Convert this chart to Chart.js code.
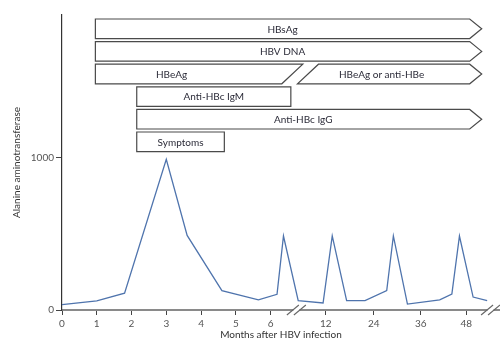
<!DOCTYPE html>
<html>
<head>
<meta charset="utf-8">
<script src="https://cdn.jsdelivr.net/npm/chart.js@4/dist/chart.umd.min.js"></script>
<style>
  html, body { margin: 0; background: #fff; }
  #wrap { width: 500px; height: 340px; }
</style>
</head>
<body>
<div id="wrap"><canvas id="altChart"></canvas></div>
<script>
Chart.defaults.font.family = 'Lato, "Open Sans", sans-serif'
Chart.defaults.font.size = 10

// broken x axis: months shown at these ticks, spaced at these axis positions
const monthTicks = [0, 1, 2, 3, 4, 5, 6, 12, 24, 36, 48]
const tickPositions = [0, 1, 2, 3, 4, 5, 6, 7.59, 8.97, 10.32, 11.63]
const breakMonths = [8.8, 54.4]
const yTicks = [0, 1000]

// ALT curve (months after infection, level)
const months = [0, 1, 1.8, 3, 3.6, 4.6, 5.65, 6.7, 7.4, 9, 11.7, 13.6, 17.2, 21.8, 27.3, 29, 32.6, 41, 44.2, 46.2, 49.8, 53.5]
const altValues = [35, 60, 110, 990, 490, 127, 66, 103, 486, 61, 46, 486, 61, 61, 127, 486, 39, 66, 105, 486, 85, 61]

// serology / clinical markers (row, start month, end month)
const markerNames = ['HBsAg', 'HBV DNA', 'HBeAg', 'HBeAg or anti-HBe', 'Anti-HBc IgM', 'Anti-HBc IgG', 'Symptoms']
const markerRows = [0, 1, 2, 2, 3, 4, 5]
const markerStart = [0.96, 0.96, 0.96, 11.2, 2.15, 2.15, 2.15]
const markerEnd = [48.9, 48.9, 9.5, 48.9, 8.2, 48.9, 4.67]

// end shapes per marker box: left / right
const leftEnds = ['flat', 'flat', 'flat', 'slash', 'flat', 'flat', 'flat']
const rightEnds = ['arrow', 'arrow', 'slash', 'arrow', 'flat', 'arrow', 'flat']
const labelAt = { 2: 3.15, 3: 26 }

const toPos = m => {
    const n = monthTicks.length
    let i = 0
    while (i < n - 2 && m > monthTicks[i + 1]) i++
    const t = (m - monthTicks[i]) / (monthTicks[i + 1] - monthTicks[i])
    return tickPositions[i] + t * (tickPositions[i + 1] - tickPositions[i])
}

const markersPlugin = {
    id: 'markers',
    beforeDatasetsDraw(chart) {
        const { ctx } = chart
        const xs = chart.scales.x
        const rs = chart.scales.rows
        const half = 9.8
        const slant = 21
        const head = 12
        ctx.save()
        ctx.lineWidth = 1.2
        ctx.strokeStyle = '#4a4a4a'
        ctx.lineJoin = 'miter'
        markerNames.forEach((name, i) => {
            const x0 = xs.getPixelForValue(toPos(markerStart[i]))
            const x1 = xs.getPixelForValue(toPos(markerEnd[i]))
            const yc = rs.getPixelForValue(markerRows[i])
            const top = yc - half, bot = yc + half
            ctx.beginPath()
            ctx.moveTo(x0, top)
            ctx.lineTo(x1, top)
            if (rightEnds[i] === 'arrow') {
                ctx.lineTo(x1 + head, yc)
                ctx.lineTo(x1, bot)
            } else if (rightEnds[i] === 'slash') {
                ctx.lineTo(x1 - slant, bot)
            } else {
                ctx.lineTo(x1, bot)
            }
            if (leftEnds[i] === 'slash') ctx.lineTo(x0 - slant, bot)
            else ctx.lineTo(x0, bot)
            ctx.closePath()
            ctx.fillStyle = '#fff'
            ctx.fill()
            ctx.stroke()

            const lx = labelAt[i] !== undefined
                ? xs.getPixelForValue(toPos(labelAt[i]))
                : (x0 + x1) / 2
            ctx.fillStyle = '#2b2b38'
            ctx.font = '10px Lato, "Open Sans", sans-serif'
            ctx.textAlign = 'center'
            ctx.textBaseline = 'middle'
            ctx.fillText(name, lx, yc + 0.5)
        })
        ctx.restore()
    },
    afterDraw(chart) {
        const { ctx } = chart
        const xs = chart.scales.x
        const y = chart.chartArea.bottom
        ctx.save()
        breakMonths.forEach(m => {
            const x = xs.getPixelForValue(toPos(m))
            ctx.fillStyle = '#fff'
            ctx.fillRect(x - 3, y - 2, 6, 4)
            ctx.strokeStyle = '#666'
            ctx.lineWidth = 1.1
            ;[-3.5, 3.5].forEach(d => {
                ctx.beginPath()
                ctx.moveTo(x + d - 6, y + 5)
                ctx.lineTo(x + d + 6, y - 5)
                ctx.stroke()
            })
        })
        ctx.restore()
    }
}

const renderAltChart = () => {

    const data = {
        datasets: [{
            data: months.map((m, i) => ({ x: toPos(m), y: altValues[i] })),
            borderColor: '#4f74ad',
            borderWidth: 1.3,
            pointRadius: 0,
            tension: 0,
            fill: false
        }]
    }

    const options = {
        responsive: true,
        maintainAspectRatio: false,
        animation: false,
        layout: { padding: { top: 15, right: 0, left: 0, bottom: 0 } },
        plugins: {
            legend: { display: false },
            tooltip: { enabled: false }
        },
        scales: {
            x: {
                type: 'linear',
                min: 0,
                max: 12.6,
                afterBuildTicks: scale => { scale.ticks = tickPositions.map(v => ({ value: v })) },
                afterFit: scale => { scale.height = 30 },
                ticks: {
                    autoSkip: false,
                    maxRotation: 0,
                    color: '#555',
                    padding: 3,
                    callback: (v, i) => monthTicks[i]
                },
                grid: { drawOnChartArea: false, drawTicks: true, tickLength: 5, color: '#444' },
                border: { color: '#8a8a8a', width: 2 },
                title: {
                    display: true,
                    text: 'Months after HBV infection',
                    color: '#333',
                    font: { size: 10, lineHeight: 1 },
                    padding: { top: 0, bottom: 0 }
                }
            },
            y: {
                min: 0,
                max: 1937,
                afterBuildTicks: scale => { scale.ticks = yTicks.map(v => ({ value: v })) },
                afterFit: scale => { scale.width = 62 },
                ticks: { color: '#555', padding: 2, callback: v => String(v) },
                grid: { drawOnChartArea: false, drawTicks: true, tickLength: 6, color: '#444' },
                border: { color: '#333', width: 1.2 },
                title: {
                    display: true,
                    text: 'Alanine aminotransferase',
                    color: '#333',
                    font: { size: 10 },
                    padding: { top: 11, bottom: 0 }
                }
            },
            rows: {
                type: 'linear',
                position: 'right',
                reverse: true,
                min: -0.61,
                max: 12.44,
                afterFit: scale => { scale.width = 0 },
                ticks: { display: false },
                grid: { display: false },
                border: { display: false }
            }
        }
    }

    new Chart('altChart', { type: 'line', data, options, plugins: [markersPlugin] })
}

renderAltChart()
</script>
</body>
</html>
